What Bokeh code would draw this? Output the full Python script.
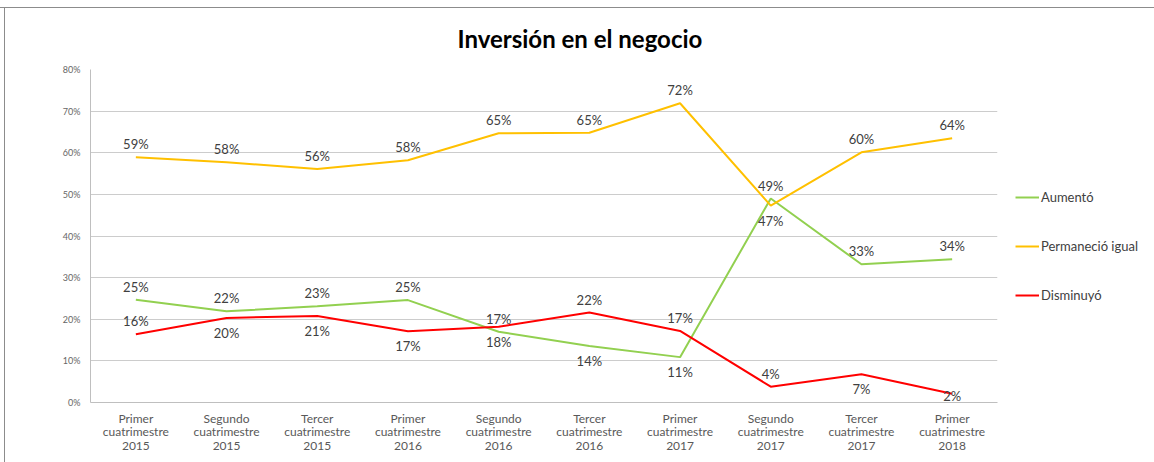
from bokeh.plotting import figure
from bokeh.layouts import row
from bokeh.models import (ColumnDataSource, FactorRange, Range1d, FixedTicker, Legend,
                          LegendItem, LabelSet)
from bokeh.core.properties import value
from bokeh.embed import file_html
from bokeh.resources import INLINE

categories = [
    "Primer\ncuatrimestre\n2015", "Segundo\ncuatrimestre\n2015", "Tercer\ncuatrimestre\n2015",
    "Primer\ncuatrimestre\n2016", "Segundo\ncuatrimestre\n2016", "Tercer\ncuatrimestre\n2016",
    "Primer\ncuatrimestre\n2017", "Segundo\ncuatrimestre\n2017", "Tercer\ncuatrimestre\n2017",
    "Primer\ncuatrimestre\n2018",
]
aumento = [24.7, 21.9, 23.1, 24.6, 17.0, 13.6, 10.9, 49.0, 33.2, 34.4]
permanecio = [58.9, 57.7, 56.1, 58.2, 64.7, 64.8, 71.9, 47.3, 60.1, 63.5]
disminuyo = [16.4, 20.3, 20.8, 17.1, 18.2, 21.6, 17.2, 3.8, 6.8, 2.1]
# data label position: 1 = above the point, -1 = below
pos_aumento = [1, 1, 1, 1, 1, -1, -1, 1, 1, 1]
pos_permanecio = [1, 1, 1, 1, 1, 1, 1, -1, 1, 1]
pos_disminuyo = [1, -1, -1, -1, -1, 1, 1, 1, -1, -1]
y_ticks = [0, 10, 20, 30, 40, 50, 60, 70, 80]

FONT = "Lato"
Y_MAX = 80
FRAME_TOP, FRAME_BOTTOM = 69, 402
PX_PER_UNIT = (FRAME_BOTTOM - FRAME_TOP) / Y_MAX

p = figure(width=1007, height=462, x_range=FactorRange(*categories), y_range=Range1d(0, Y_MAX),
           output_backend="svg", toolbar_location=None,
           min_border_left=90, min_border_right=10, min_border_top=FRAME_TOP,
           min_border_bottom=462 - FRAME_BOTTOM)
p.title.text = "Inversión en el negocio"
p.title.align = "left"
p.title.offset = 367
p.title.standoff = 33
p.title.text_font = FONT
p.title.text_font_size = "24px"
p.title.text_font_style = "bold"
p.title.text_color = "#000000"

p.outline_line_color = None
p.background_fill_color = "white"
p.border_fill_color = None

p.xgrid.grid_line_color = None
p.ygrid.grid_line_color = "#cccccc"
p.ygrid.grid_line_width = 1

p.yaxis.ticker = FixedTicker(ticks=y_ticks)
p.yaxis.major_label_overrides = {t: f"{t}%" for t in y_ticks}
p.yaxis.major_label_text_font = FONT
p.yaxis.major_label_text_font_size = "9px"
p.yaxis.major_label_text_color = "#666666"
p.yaxis.axis_line_color = "#bfbfbf"
p.yaxis.major_tick_line_color = None
p.yaxis.minor_tick_line_color = None
p.yaxis.major_tick_out = 0
p.yaxis.major_tick_in = 0
p.yaxis.major_label_standoff = 10

p.xaxis.axis_line_color = "#bfbfbf"
p.xaxis.major_tick_line_color = None
p.xaxis.minor_tick_line_color = None
p.xaxis.major_tick_out = 0
p.xaxis.major_tick_in = 0
p.xaxis.major_label_text_font = FONT
p.xaxis.major_label_text_font_size = "12px"
p.xaxis.major_label_text_line_height = 0.9
p.xaxis.major_label_text_color = "#595959"
p.xaxis.major_label_standoff = 8

series = [
    ("Aumentó", aumento, pos_aumento, "#92d050"),
    ("Permaneció igual", permanecio, pos_permanecio, "#ffc000"),
    ("Disminuyó", disminuyo, pos_disminuyo, "#ff0000"),
]

for name, vals, pos, color in series:
    src = ColumnDataSource(dict(x=categories, y=vals))
    p.line("x", "y", source=src, line_color=color, line_width=2)

for name, vals, pos, color in series:
    offs = []
    for v, s in zip(vals, pos):
        if s > 0:
            offs.append(13)
        else:
            # keep labels that sit below a point inside the plot area
            offs.append(-min(15, v * PX_PER_UNIT - 7))
    src = ColumnDataSource(dict(
        x=categories, y=vals,
        label=[f"{round(v)}%" for v in vals],
        yoff=offs,
    ))
    labels = LabelSet(x="x", y="y", text="label", y_offset="yoff", source=src,
                      text_align="center", text_baseline="middle",
                      text_font=value(FONT), text_font_size="13px", text_color="#404040")
    p.add_layout(labels)

# legend panel to the right of the chart (its renderers lie outside its view)
lf = figure(width=147, height=462, x_range=Range1d(0, 1), y_range=Range1d(0, 1),
            output_backend="svg", toolbar_location=None,
            x_axis_location=None, y_axis_location=None,
            min_border_left=0, min_border_right=0, min_border_top=FRAME_TOP,
            min_border_bottom=462 - FRAME_BOTTOM)
lf.outline_line_color = None
lf.xgrid.grid_line_color = None
lf.ygrid.grid_line_color = None
lf.background_fill_color = None
lf.border_fill_color = None

items = []
for name, vals, pos, color in series:
    r = lf.line(x=vals, y=vals, line_color=color, line_width=2)
    items.append(LegendItem(label=name, renderers=[r]))

legend = Legend(items=items, location=(8, 97), orientation="vertical")
legend.border_line_color = None
legend.background_fill_alpha = 0
legend.label_text_font = FONT
legend.label_text_font_size = "13px"
legend.label_text_color = "#404040"
legend.glyph_width = 24
legend.glyph_height = 20
legend.label_height = 20
legend.label_standoff = 2
legend.spacing = 29
legend.padding = 0
legend.margin = 0
lf.add_layout(legend)

layout = row(p, lf)
layout.styles = {
    "background": ("linear-gradient(#8c8c8c, #8c8c8c) 0 7px / 100% 1px no-repeat, "
                   "linear-gradient(#8c8c8c, #8c8c8c) 4px 7px / 1px 100% no-repeat, white"),
}
open("out.html", "w").write(file_html(layout, INLINE))
